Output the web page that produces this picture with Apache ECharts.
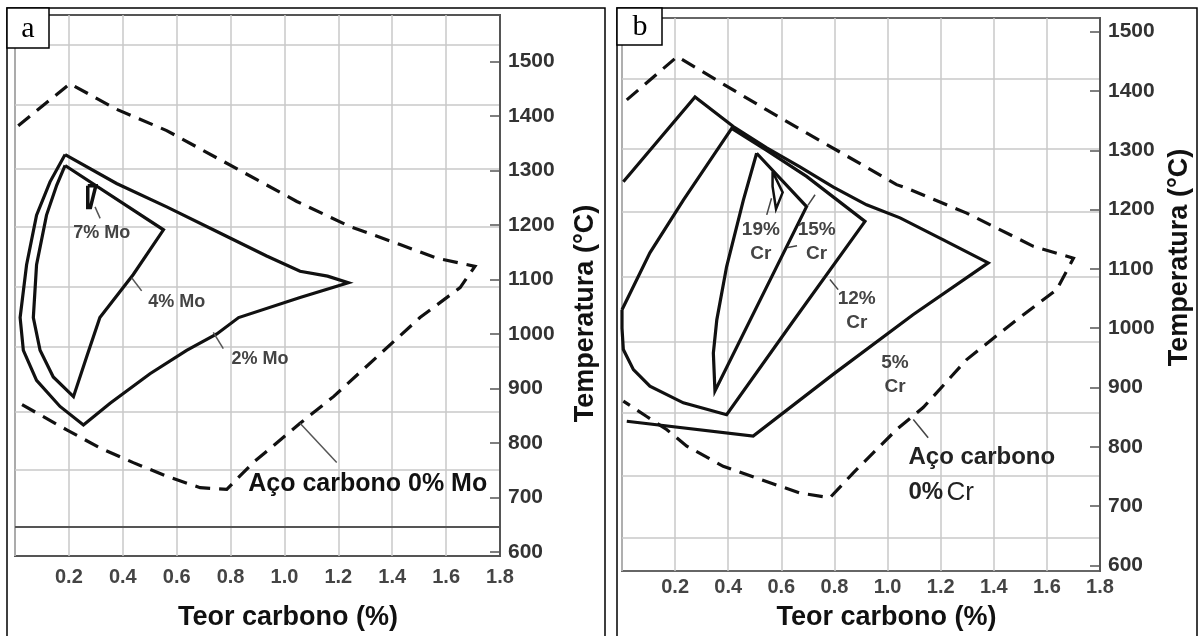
<!DOCTYPE html>
<html>
<head>
<meta charset="utf-8">
<title>Teor carbono x Temperatura</title>
<script src="https://cdn.jsdelivr.net/npm/echarts@6/dist/echarts.min.js"></script>
<style>
  html, body { margin: 0; padding: 0; background: #fff; }
  #chart { width: 1203px; height: 636px; }
</style>
</head>
<body>
<div id="chart"></div>
<script>
// ticks / linhas de grade (valores em °C)
const tempTicks = [600, 700, 800, 900, 1000, 1100, 1200, 1300, 1400, 1500];
const gridTemps = [646, 751, 858, 977, 1087, 1196, 1303, 1421, 1530];

// painel a - Mo   [teor carbono %, temperatura °C]
const moCarbonSteel = [
  [0.012, 1382], [0.204, 1459], [0.377, 1412], [0.563, 1373], [1.046, 1243], [1.243, 1197],
  [1.429, 1164], [1.565, 1139], [1.707, 1124], [1.652, 1085], [1.503, 1030], [1.403, 985],
  [1.182, 885], [1.058, 836], [0.884, 764], [0.786, 715], [0.687, 718], [0.563, 739],
  [0.439, 764], [0.315, 791], [0.192, 824], [0.006, 876]
];
const mo2 = [
  [0.186, 1329], [0.377, 1276], [0.563, 1233], [0.749, 1188], [0.934, 1143], [1.058, 1115],
  [1.16, 1106], [1.237, 1094], [1.058, 1067], [0.83, 1030], [0.749, 1000], [0.637, 970],
  [0.501, 927], [0.353, 873], [0.254, 833], [0.167, 867], [0.08, 915], [0.031, 970],
  [0.019, 1030], [0.043, 1127], [0.08, 1218], [0.13, 1279], [0.186, 1329]
];
const mo4 = [
  [0.186, 1309], [0.551, 1191], [0.439, 1109], [0.315, 1030], [0.266, 958], [0.217, 885],
  [0.142, 921], [0.093, 970], [0.068, 1030], [0.08, 1127], [0.117, 1218], [0.155, 1273],
  [0.186, 1309]
];
const mo7 = [[0.27, 1272], [0.30, 1272], [0.28, 1232], [0.27, 1232], [0.27, 1272]];
const moLeaders = [
  [[0.297, 1233], [0.316, 1212]],
  [[0.433, 1103], [0.470, 1079]],
  [[0.736, 1003], [0.773, 973]],
  [[1.058, 836], [1.194, 764]]
];
const moLabels = [['7% Mo', 0.322, 1185], ['4% Mo', 0.600, 1059], ['2% Mo', 0.909, 954]];
const moSteelLabel = ['Aço carbono 0% Mo', 1.309, 725];
const moBaseLine = 647;

// painel b - Cr
const crCarbonSteel = [
  [0.018, 1385], [0.208, 1458], [0.545, 1368], [1.034, 1242], [1.072, 1236], [1.298, 1194],
  [1.549, 1138], [1.70, 1118], [1.637, 1065], [1.486, 1014], [1.298, 947], [1.134, 866],
  [1.034, 829], [0.871, 756], [0.783, 714], [0.670, 722], [0.52, 745], [0.381, 767],
  [0.244, 801], [0.168, 829], [0.093, 851], [0.005, 877]
];
const cr5 = [
  [0.005, 1247], [0.275, 1390], [0.419, 1340], [0.545, 1304], [0.670, 1272], [0.796, 1238],
  [0.921, 1208], [1.047, 1186], [1.21, 1149], [1.379, 1110], [1.097, 1023], [0.795, 922],
  [0.494, 818], [0.018, 843]
];
const cr12 = [
  [0.0, 1031], [0.105, 1127], [0.231, 1216], [0.413, 1337], [0.545, 1300], [0.695, 1256],
  [0.915, 1180], [0.645, 1012], [0.394, 854], [0.231, 874], [0.105, 902], [0.043, 930],
  [0.005, 964], [0.0, 1000], [0.0, 1031]
];
const cr15 = [
  [0.507, 1295], [0.695, 1205], [0.35, 894], [0.344, 958], [0.357, 1014], [0.394, 1104],
  [0.457, 1216], [0.507, 1295]
];
const cr19 = [[0.567, 1264], [0.605, 1229], [0.58, 1201], [0.567, 1239], [0.567, 1264]];
const crLeaders = [
  [[0.545, 1191], [0.563, 1219]],
  [[0.625, 1136], [0.659, 1139]],
  [[0.70, 1207], [0.727, 1225]],
  [[0.783, 1082], [0.814, 1065]],
  [[1.097, 846], [1.153, 815]]
];
const crLabels = [['19%\nCr', 0.523, 1146], ['15%\nCr', 0.733, 1146], ['12%\nCr', 0.884, 1029], ['5%\nCr', 1.028, 922]];
const crSteelLabel = [1.077, 752];

const font = '"Liberation Sans", Arial, sans-serif';

function curve(data, panel, opts = {}) {
  return {
    type: 'line', xAxisIndex: panel, yAxisIndex: panel * 2, data,
    symbol: 'none', silent: true, z: opts.z || 3,
    lineStyle: {
      color: opts.color || '#111', width: opts.width || 3.2,
      type: opts.dashed ? [15, 9] : 'solid', join: 'miter'
    },
    markLine: opts.markLine
  };
}

function labels(items, panel, style) {
  return {
    type: 'scatter', xAxisIndex: panel, yAxisIndex: panel * 2, symbolSize: 1, silent: true, z: 5,
    itemStyle: { color: 'rgba(0,0,0,0)', opacity: 1 },
    data: items.map(([text, x, y]) => ({ value: [x, y], label: { formatter: text } })),
    label: Object.assign({ show: true, position: 'inside', fontFamily: font }, style)
  };
}

function xAxis(panel, padLeft) {
  return {
    gridIndex: panel, type: 'value', min: 0, max: 1.8, interval: 0.2,
    name: 'Teor carbono (%)', nameLocation: 'middle', nameGap: panel ? 33 : 48,
    nameTextStyle: { fontFamily: font, fontSize: 27, fontWeight: 'bold', color: '#111', padding: [0, 0, 0, padLeft] },
    axisLine: { show: false, onZero: false }, axisTick: { show: false },
    axisLabel: {
      margin: panel ? 6 : 11, fontFamily: font, fontSize: 20, fontWeight: 'bold', color: '#444',
      formatter: v => (v === 0 ? '' : v.toFixed(1))
    },
    splitLine: { show: true, lineStyle: { color: '#c9c9c9', width: 1.5 } }
  };
}

function yAxes(panel, min, max, gap, pad) {
  return [{
    gridIndex: panel, type: 'value', position: 'right', min, max,
    name: 'Temperatura (°C)', nameLocation: 'middle', nameRotate: 90, nameGap: gap,
    nameTextStyle: { fontFamily: font, fontSize: 27, fontWeight: 'bold', color: '#111', padding: pad },
    axisLine: { show: true, onZero: false, lineStyle: { color: '#555', width: 2 } },
    axisTick: { show: true, inside: true, length: 10, customValues: tempTicks, lineStyle: { color: '#555', width: 1.5 } },
    axisLabel: {
      customValues: tempTicks, margin: 8, fontFamily: font, fontSize: 21, fontWeight: 'bold', color: '#333',
      formatter: v => String(v)
    },
    splitLine: { show: false }
  }, {
    gridIndex: panel, type: 'value', position: 'right', min, max,
    axisLine: { show: false, onZero: false }, axisLabel: { show: false },
    axisTick: { show: false, customValues: gridTemps.filter(t => t > min && t < max) },
    splitLine: { show: true, lineStyle: { color: '#c9c9c9', width: 1.5 } }
  }];
}

const chart = echarts.init(document.getElementById('chart'), null, { renderer: 'canvas' });

chart.setOption({
  animation: false,
  backgroundColor: '#fff',
  grid: [
    { left: 15, top: 15, right: 703, bottom: 75, show: true, borderColor: '#555', borderWidth: 2 },
    { left: 622, top: 18, right: 103, bottom: 64, show: true, borderColor: '#666', borderWidth: 2 }
  ],
  xAxis: [xAxis(0, 61), xAxis(1, 51)],
  yAxis: [
    ...yAxes(0, 592.7, 1585, 72, [0, 56, 0, 0]),
    ...yAxes(1, 590.4, 1523.1, 66, [0, 0, 0, 74])
  ],
  series: [
    curve(moCarbonSteel, 0, {
      dashed: true,
      markLine: {
        silent: true, symbol: 'none', label: { show: false },
        lineStyle: { color: '#555', width: 2, type: 'solid' },
        data: [{ yAxis: moBaseLine }]
      }
    }),
    curve(mo2, 0),
    curve(mo4, 0),
    curve(mo7, 0, { width: 3.5 }),
    ...moLeaders.map(d => curve(d, 0, { color: '#555', width: 1.5 })),
    labels(moLabels, 0, { fontSize: 18, fontWeight: 'bold', color: '#444' }),
    labels([moSteelLabel], 0, { fontSize: 25, fontWeight: 'bold', color: '#111' }),

    curve(crCarbonSteel, 1, { dashed: true }),
    curve(cr5, 1),
    curve(cr12, 1),
    curve(cr15, 1),
    curve(cr19, 1, { width: 2.5 }),
    ...crLeaders.map(d => curve(d, 1, { color: '#444', width: 1.5 })),
    labels(crLabels, 1, { fontSize: 19, fontWeight: 'bold', color: '#444', lineHeight: 24 }),
    {
      type: 'scatter', xAxisIndex: 1, yAxisIndex: 2, symbolSize: 1, silent: true, z: 5,
      itemStyle: { color: 'rgba(0,0,0,0)', opacity: 1 },
      data: [crSteelLabel],
      label: {
        show: true, position: 'right', distance: 0, align: 'left',
        formatter: '{b|Aço carbono}\n{b|0%} {n|Cr}',
        rich: {
          b: { fontFamily: font, fontSize: 24, fontWeight: 'bold', color: '#222', lineHeight: 35 },
          n: { fontFamily: font, fontSize: 26, fontWeight: 'normal', color: '#222', lineHeight: 35 }
        }
      }
    }
  ],
  graphic: [
    { type: 'rect', z: 100, shape: { x: 7, y: 8, width: 598, height: 640 }, style: { fill: 'none', stroke: '#000', lineWidth: 1.5 } },
    { type: 'rect', z: 100, shape: { x: 617, y: 8, width: 580, height: 640 }, style: { fill: 'none', stroke: '#000', lineWidth: 1.5 } },
    { type: 'rect', z: 101, shape: { x: 7, y: 8, width: 42, height: 40 }, style: { fill: '#fff', stroke: '#000', lineWidth: 1.5 } },
    { type: 'rect', z: 101, shape: { x: 617, y: 8, width: 45, height: 37 }, style: { fill: '#fff', stroke: '#000', lineWidth: 1.5 } },
    { type: 'text', z: 102, x: 28, y: 29, style: { text: 'a', font: '30px "Liberation Serif", serif', fill: '#000', align: 'center', verticalAlign: 'middle', textAlign: 'center', textVerticalAlign: 'middle' } },
    { type: 'text', z: 102, x: 640, y: 27, style: { text: 'b', font: '30px "Liberation Serif", serif', fill: '#000', align: 'center', verticalAlign: 'middle', textAlign: 'center', textVerticalAlign: 'middle' } }
  ]
});

window.addEventListener('resize', () => chart.resize());
</script>
</body>
</html>
